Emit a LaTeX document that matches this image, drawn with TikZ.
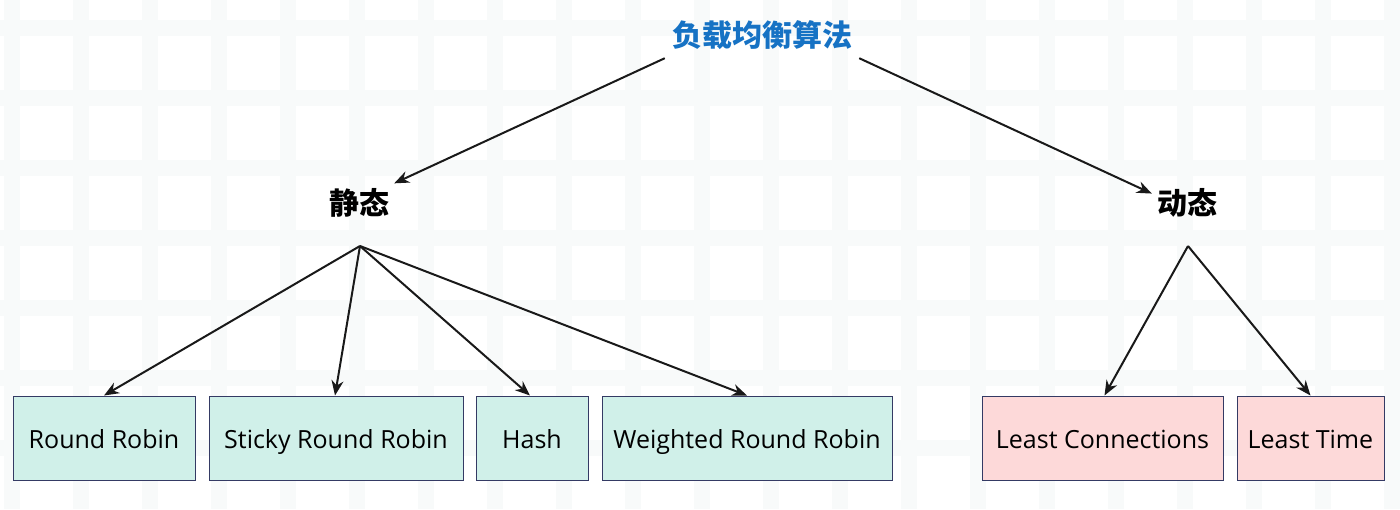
\documentclass[tikz,border=0pt]{standalone}
\usepackage{fontspec}
\setmainfont{Open Sans}
\newfontfamily\cjk{Noto Sans CJK SC}
\usetikzlibrary{arrows.meta,positioning}
\definecolor{gridc}{RGB}{248,250,250}
\definecolor{titleblue}{RGB}{22,114,196}
\definecolor{tealfill}{RGB}{208,240,233}
\definecolor{pinkfill}{RGB}{253,217,217}
\definecolor{boxline}{RGB}{52,58,100}
\tikzset{
  head/.style={font=\cjk\bfseries\fontsize{30}{34}\selectfont},
  algo/.style={draw=boxline,line width=1pt,minimum height=84pt,inner sep=0pt,
    text height=20pt,text depth=0pt,font=\fontsize{25}{28}\selectfont},
  stat/.style={algo,fill=tealfill},
  dyn/.style={algo,fill=pinkfill},
  link/.style={line width=2pt,black!90,-{Stealth[length=15pt,width=12pt]}},
}
\begin{document}
\begin{tikzpicture}[x=1pt,y=-1pt]
    \useasboundingbox (0,0) rectangle (1400,509);
    % faint paper grid
    \foreach \gx in {12,81,...,1400} \draw[gridc,line width=16pt] (\gx,0) -- (\gx,509);
    \foreach \gy in {28,98,...,509} \draw[gridc,line width=16pt] (0,\gy) -- (1400,\gy);
    % categories
    \node[head,titleblue,minimum width=194pt,minimum height=46pt] (root) at (762,35) {负载均衡算法};
    \node[head,inner sep=5pt] (static) at (359,203) {静态};
    \node[head,inner sep=5pt] (dynamic) at (1187,203) {动态};
    \coordinate (sfork) at (360,246);
    \coordinate (dfork) at (1188,246);
    % algorithms
    \node[stat,minimum width=182pt] (rr) at (104,438) {Round Robin};
    \node[stat,minimum width=254pt] (srr) at (336,438) {Sticky Round Robin};
    \node[stat,minimum width=112pt] (hash) at (532,438) {Hash};
    \node[stat,minimum width=290pt] (wrr) at (747,438) {Weighted Round Robin};
    \node[dyn,minimum width=241pt] (lc) at (1102.5,438) {Least Connections};
    \node[dyn,minimum width=147pt] (lt) at (1310.5,438) {Least Time};
    % arrows
    \draw[link] (root.south west) -- (static.north east);
    \draw[link] (root.south east) -- (dynamic.165);
    \draw[link] (sfork) -- (rr.north);
    \draw[link] (sfork) -- ([xshift=-1pt]srr.north);
    \draw[link] (sfork) -- ([xshift=-2pt]hash.north);
    \draw[link] (sfork) -- (wrr.north);
    \draw[link] (dfork) -- ([xshift=2pt]lc.north);
    \draw[link] (dfork) -- (lt.north);
\end{tikzpicture}
\end{document}
